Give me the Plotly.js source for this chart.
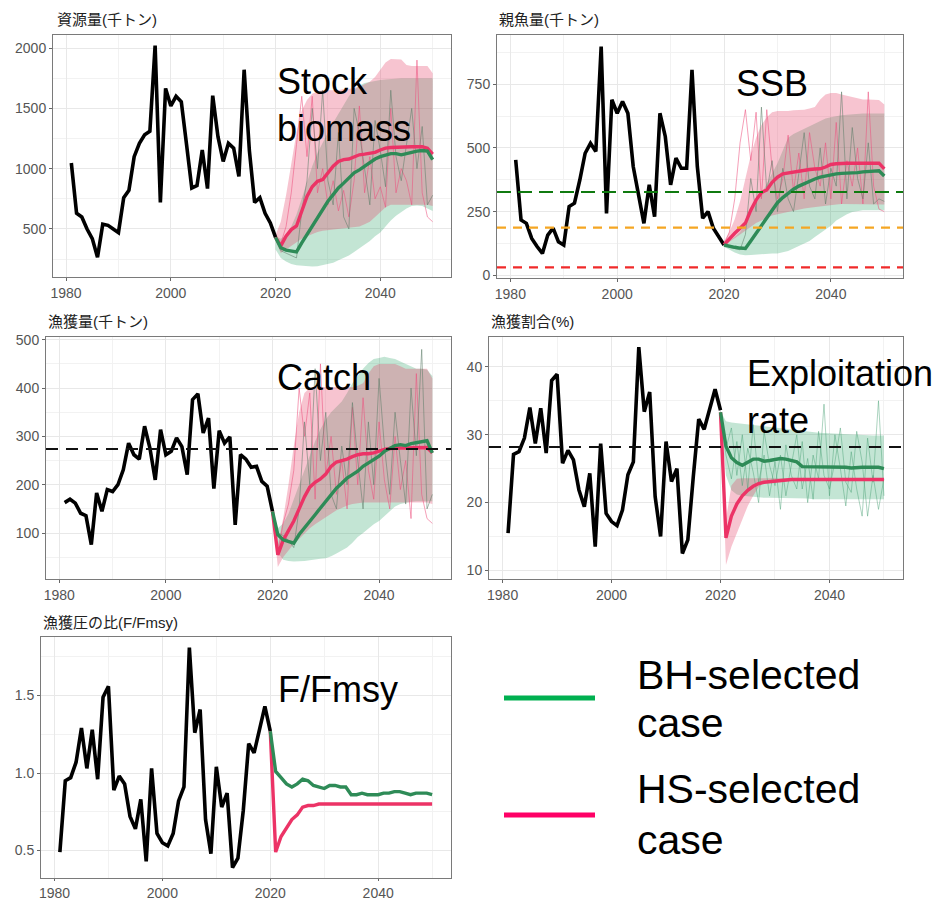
<!DOCTYPE html>
<html><head><meta charset="utf-8">
<script src="https://cdn.plot.ly/plotly-3.0.1.min.js"></script>
<style>html,body{margin:0;padding:0;background:#fff}#chart{width:940px;height:903px}</style>
</head><body><div id="chart"></div>
<script>
// ---------- DATA ----------
const histYears = [1981,1982,1983,1984,1985,1986,1987,1988,1989,1990,
  1991,1992,1993,1994,1995,1996,1997,1998,1999,2000,
  2001,2002,2003,2004,2005,2006,2007,2008,2009,2010,
  2011,2012,2013,2014,2015,2016,2017,2018,2019,2020];
const projYears = [2020,2021,2022,2023,2024,2025,2026,2027,2028,2029,
  2030,2031,2032,2033,2034,2035,2036,2037,2038,2039,
  2040,2041,2042,2043,2044,2045,2046,2047,2048,2049,2050];

// Stock biomass (thousand t)
const bioHist = [1047,630,600,500,420,265,540,530,500,470,
  760,820,1100,1210,1280,1310,2020,720,1665,1520,
  1600,1555,1200,840,860,1155,835,1605,1265,1060,
  1210,1170,935,1820,1150,720,760,630,550,430];
const bioHS = [430,360,440,495,525,640,770,850,895,910,
  965,1020,1060,1075,1080,1100,1115,1120,1125,1135,
  1155,1170,1175,1178,1178,1180,1182,1182,1182,1170,1120];
const bioBH = [430,345,325,315,310,385,455,520,590,660,
  730,785,840,880,920,965,990,1020,1045,1080,
  1100,1115,1125,1125,1115,1125,1138,1145,1150,1145,1075];
const bioHSup = [450,560,780,1050,1300,1480,1570,1620,1640,1650,
  1650,1650,1650,1660,1660,1670,1680,1700,1720,1760,
  1820,1880,1910,1910,1905,1860,1850,1850,1850,1850,1790];
const bioHSlo = [400,300,330,360,390,420,440,460,475,485,
  490,495,500,500,505,510,520,540,560,600,
  640,680,700,700,700,700,700,700,700,700,690];
const bioBHup = [440,420,450,520,620,760,900,1020,1130,1220,
  1300,1380,1450,1530,1600,1650,1690,1710,1720,1730,
  1735,1740,1745,1745,1750,1750,1750,1750,1750,1750,1750];
const bioBHlo = [330,260,230,210,200,195,192,190,192,200,
  210,220,240,260,280,310,340,370,400,440,
  470,520,570,610,640,670,690,695,690,670,650];
const bioTrajHS = [420,380,520,800,1200,1600,1100,1600,800,1000,
  700,900,650,820,600,900,1520,800,1100,750,
  850,680,1500,800,1000,900,700,1900,800,600,560];
const bioTrajBH = [420,320,300,280,260,650,900,1500,1000,1650,
  900,700,1300,600,500,1500,1300,1000,700,1400,
  1150,850,1650,1100,900,1200,1500,1000,1350,700,780];

// SSB (thousand t)
const ssbHist = [453,217,204,145,113,86,158,185,132,119,
  270,283,374,479,518,486,898,243,689,636,
  682,636,427,309,204,355,230,636,545,355,
  460,420,420,806,427,224,250,185,152,119];
const ssbHS = [120,145,165,185,205,255,295,325,335,365,
  385,398,402,405,410,412,415,417,418,425,
  435,438,440,440,440,440,440,440,442,440,418];
const ssbBH = [119,113,110,107,105,135,165,195,228,260,
  285,305,322,338,350,360,370,378,385,390,
  395,398,400,400,400,403,406,408,410,410,390];
const ssbHSup = [135,170,220,290,380,470,540,590,620,640,
  645,645,645,648,650,650,655,660,690,710,
  715,715,710,705,700,695,690,690,690,688,670];
const ssbHSlo = [118,130,145,160,175,190,205,215,225,235,
  240,245,250,255,260,262,265,268,270,272,
  275,278,280,280,280,280,280,280,280,280,278];
const ssbBHup = [125,135,150,170,200,240,280,320,360,400,
  440,490,540,555,565,575,585,595,605,615,
  620,625,628,630,632,634,635,635,635,635,635];
const ssbBHlo = [112,100,90,82,79,80,82,84,85,86,
  86,90,95,105,115,125,135,150,165,177,
  195,215,229,240,248,252,255,255,255,255,255];
const ssbTrajHS = [120,170,300,520,650,450,640,300,650,420,
  300,380,550,330,480,300,560,420,350,520,
  300,600,280,450,350,500,280,720,350,260,250];
const ssbTrajBH = [120,110,105,100,160,380,250,660,330,450,
  250,420,300,250,400,560,350,300,500,280,
  420,350,720,300,580,380,300,520,280,300,290];
const ssbRefs = [327, 187, 31];   // target, limit, ban

// Catch (thousand t)
const catHist = [163,170,162,141,136,76,183,145,190,186,
  200,231,286,262,253,321,276,210,314,262,
  269,297,279,221,376,388,307,338,192,312,
  286,299,117,262,253,236,238,207,197,145];
const catHS = [145,55,85,105,125,150,175,195,205,212,
  222,238,247,250,253,258,262,264,264,266,
  270,273,275,276,276,276,276,277,277,277,266];
const catBH = [145,97,86,83,79,97,110,124,138,152,
  166,179,193,203,214,221,228,238,245,252,
  259,269,276,281,283,281,285,287,289,291,266];
const catHSup = [150,75,130,200,280,350,390,400,402,402,
  402,402,402,402,402,402,405,410,430,445,
  450,450,450,450,445,440,440,440,440,440,420];
const catHSlo = [140,30,50,65,78,88,100,110,118,125,
  132,140,147,152,157,160,162,163,163,163,
  163,163,163,163,163,163,163,163,163,163,160];
const catBHup = [150,110,120,140,170,200,230,260,290,315,
  335,350,360,372,390,410,425,440,452,460,
  462,465,462,460,455,450,445,440,440,438,425];
const catBHlo = [140,60,45,42,41,41,42,44,46,47,
  48,52,58,64,70,80,92,100,110,118,
  125,135,145,155,160,163,165,166,166,166,166];
const catTrajHS = [145,60,120,160,230,400,300,390,170,450,
  220,300,180,250,150,360,200,380,230,170,
  330,210,150,300,190,250,130,430,180,130,120];
const catTrajBH = [145,100,95,85,70,150,330,200,440,250,
  350,180,150,280,200,370,250,150,330,200,
  420,280,180,350,250,160,400,260,480,150,180];
const catRef = 274;

// Exploitation rate (%)
const erHist = [15.5,27.1,27.5,29.5,34.0,28.7,33.9,27.3,38.0,38.9,
  25.8,27.7,26.3,21.9,19.4,24.3,13.5,28.7,18.4,17.2,
  16.6,18.9,24.1,26.0,42.9,33.4,36.3,20.9,15.0,29.0,
  23.1,25.0,12.5,14.5,23.8,32.3,30.8,33.6,36.7,33.6];
const erHS = [33.3,14.8,18.0,19.8,21.0,21.8,22.4,22.8,23.0,23.1,
  23.2,23.3,23.3,23.4,23.4,23.4,23.4,23.4,23.4,23.4,
  23.4,23.4,23.4,23.4,23.4,23.4,23.4,23.4,23.4,23.4,23.4];
const erBH = [33.3,28.3,26.6,25.9,25.5,26.0,26.4,26.4,26.1,26.2,
  26.4,26.5,26.4,26.2,26.0,25.3,25.3,25.2,25.2,25.2,
  25.3,25.3,25.2,25.2,25.1,25.2,25.2,25.2,25.2,25.2,25.0];
const erHSup = [33.5,17.5,22.5,23.5,23.6,23.6,23.6,23.6,23.6,23.6,
  23.6,23.6,23.6,23.6,23.6,23.6,23.6,23.6,23.6,23.6,
  23.6,23.6,23.6,23.6,23.6,23.6,23.6,23.6,23.6,23.6,23.6];
const erHSlo = [33.0,10.8,13.5,15.5,17.5,19.5,21.0,22.3,22.9,23.1,
  23.2,23.3,23.3,23.3,23.3,23.3,23.3,23.3,23.3,23.3,
  23.3,23.3,23.3,23.3,23.3,23.3,23.3,23.3,23.3,23.3,23.3];
const erBHup = [33.5,32.0,31.8,31.7,31.6,31.5,31.4,31.3,31.2,31.1,
  31.0,30.9,30.8,30.7,30.6,30.5,30.4,30.35,30.3,30.25,
  30.2,30.15,30.1,30.05,30.0,30.0,29.95,29.95,29.9,29.9,29.9];
const erBHlo = [33.0,24.0,21.8,21.2,21.0,20.9,20.8,20.8,20.7,20.7,
  20.7,20.7,20.6,20.6,20.6,20.6,20.6,20.5,20.5,20.5,
  20.5,20.5,20.5,20.5,20.5,20.5,20.5,20.5,20.5,20.5,20.5];
const erTrajBH1 = [33.3,28.0,31.0,24.0,30.0,22.0,31.5,23.0,27.0,21.0,
  26.0,19.0,28.5,24.0,22.0,29.0,20.0,27.0,23.5,34.5,
  21.0,30.0,25.0,19.5,27.5,22.0,18.0,29.5,23.0,35.0,21.0];
const erTrajBH2 = [33.3,27.0,23.5,29.0,22.5,28.0,24.5,20.0,30.5,25.5,
  22.5,27.0,21.0,25.5,30.0,22.0,26.5,20.5,30.5,24.0,
  22.0,26.0,31.0,23.0,21.5,30.5,26.0,18.0,24.0,19.0,23.5];
const erRef = 28.2;

// F/Fmsy
const fHist = [0.49,0.95,0.97,1.07,1.29,1.03,1.28,0.96,1.49,1.56,
  0.89,0.98,0.93,0.72,0.64,0.83,0.43,1.03,0.61,0.55,
  0.53,0.61,0.82,0.91,1.81,1.26,1.41,0.70,0.48,1.04,
  0.78,0.87,0.39,0.45,0.76,1.19,1.13,1.28,1.43,1.27];
const fHS = [1.27,0.49,0.59,0.65,0.70,0.73,0.78,0.79,0.79,0.80,
  0.80,0.80,0.80,0.80,0.80,0.80,0.80,0.80,0.80,0.80,
  0.80,0.80,0.80,0.80,0.80,0.80,0.80,0.80,0.80,0.80,0.80];
const fBH = [1.27,1.01,0.97,0.93,0.91,0.93,0.96,0.95,0.92,0.91,
  0.90,0.92,0.92,0.91,0.91,0.86,0.86,0.87,0.86,0.86,
  0.86,0.87,0.87,0.88,0.88,0.87,0.86,0.87,0.87,0.87,0.86];

const panelTitles = ['資源量(千トン)', '親魚量(千トン)', '漁獲量(千トン)', '漁獲割合(%)', '漁獲圧の比(F/Fmsy)'];
const panelLabels = ['Stock<br>biomass', 'SSB', 'Catch', 'Exploitation<br>rate', 'F/Fmsy'];
const legendLabels = [['BH-selected', 'case'], ['HS-selected', 'case']];

// ---------- STYLE ----------
const W = 940, H = 903;
const HS_COL = '#ec3366', BH_COL = '#2e8b57';
const HS_FILL = 'rgba(230,60,100,0.30)', BH_FILL = 'rgba(40,160,100,0.28)';
const HS_THIN = 'rgba(236,80,125,0.55)', BH_THIN = 'rgba(95,125,105,0.55)';
const FONT = 'Liberation Sans, Arial, sans-serif';
const px = v => v / W, py = v => 1 - v / H;

const boxes = [
  {l:53,  r:451, t:35,  b:277, yr:[102, 2108],     dt:500, mdt:250},
  {l:497, r:903, t:35,  b:278, yr:[-10.5, 943],    dt:250, mdt:125},
  {l:46,  r:451, t:337, b:579, yr:[5, 505.6],      dt:100, mdt:50},
  {l:489, r:903, t:337, b:579, yr:[8.74, 44.4],    dt:10,  mdt:5},
  {l:41,  r:451, t:637, b:878, yr:[0.3225, 1.878], dt:0.5, mdt:0.25, fmt:'.1f'}
];

const traces = [];
function ax(i){ return i === 0 ? ['x','y'] : ['x'+(i+1), 'y'+(i+1)]; }
function ln(i, x, y, color, width, extra){
  const [xa, ya] = ax(i);
  return Object.assign({type:'scatter', mode:'lines', x:x, y:y, xaxis:xa, yaxis:ya,
    line:{color:color, width:width}, hoverinfo:'skip', showlegend:false}, extra || {});
}
function band(i, lo, up, fill){
  traces.push(ln(i, projYears, lo, 'rgba(0,0,0,0)', 0));
  traces.push(ln(i, projYears, up, 'rgba(0,0,0,0)', 0, {fill:'tonexty', fillcolor:fill}));
}
function panel(i, o){
  if (o.bh) band(i, o.bh[0], o.bh[1], BH_FILL);
  if (o.hs) band(i, o.hs[0], o.hs[1], HS_FILL);
  (o.thin || []).forEach(t => traces.push(ln(i, projYears, t[0], t[1], 1)));
  traces.push(ln(i, histYears, o.hist, '#000', 3.6));
  traces.push(ln(i, projYears, o.hsMed, HS_COL, 3.4));
  traces.push(ln(i, projYears, o.bhMed, BH_COL, 3.4));
}

panel(0, {hist:bioHist, hsMed:bioHS, bhMed:bioBH, hs:[bioHSlo,bioHSup], bh:[bioBHlo,bioBHup],
  thin:[[bioTrajHS,HS_THIN],[bioTrajBH,BH_THIN]]});
panel(1, {hist:ssbHist, hsMed:ssbHS, bhMed:ssbBH, hs:[ssbHSlo,ssbHSup], bh:[ssbBHlo,ssbBHup],
  thin:[[ssbTrajHS,HS_THIN],[ssbTrajBH,BH_THIN]]});
panel(2, {hist:catHist, hsMed:catHS, bhMed:catBH, hs:[catHSlo,catHSup], bh:[catBHlo,catBHup],
  thin:[[catTrajHS,HS_THIN],[catTrajBH,BH_THIN]]});
panel(3, {hist:erHist, hsMed:erHS, bhMed:erBH, hs:[erHSlo,erHSup], bh:[erBHlo,erBHup],
  thin:[[erTrajBH1,'rgba(70,160,115,0.45)'],[erTrajBH2,'rgba(70,160,115,0.45)']]});
panel(4, {hist:fHist, hsMed:fHS, bhMed:fBH});

const layout = {
  width:W, height:H, margin:{l:0,r:0,t:0,b:0}, autosize:false,
  paper_bgcolor:'#fff', plot_bgcolor:'#fff', showlegend:false,
  font:{family:FONT, color:'#333'},
  shapes:[], annotations:[]
};

boxes.forEach((b, i) => {
  const n = i === 0 ? '' : String(i+1);
  const common = {
    showline:true, mirror:true, linecolor:'#7a7a7a', linewidth:1,
    showgrid:true, gridcolor:'#e8e8e8', gridwidth:1, zeroline:false,
    ticks:'outside', ticklen:3, tickwidth:1, tickcolor:'#666',
    tickfont:{family:FONT, size:14, color:'#555'}, fixedrange:true
  };
  layout['xaxis'+n] = Object.assign({}, common, {
    domain:[px(b.l), px(b.r)], range:[1977.5, 2053.5], anchor:'y'+n,
    tickmode:'linear', tick0:1980, dtick:20,
    minor:{showgrid:true, gridcolor:'#f2f2f2', dtick:10, tick0:1970}
  });
  if (i === 4) layout['xaxis'+n].ticklen = 2;
  layout['yaxis'+n] = Object.assign({}, common, {
    domain:[py(b.b), py(b.t)], range:b.yr, anchor:'x'+n,
    tickmode:'linear', tick0:0, dtick:b.dt, tickformat:b.fmt || '',
    minor:{showgrid:true, gridcolor:'#f2f2f2', dtick:b.mdt, tick0:0}
  });
});

// reference lines
function hline(i, v, color, dash, width){
  const n = i === 0 ? '' : String(i+1);
  layout.shapes.push({type:'line', xref:'x'+n+' domain', x0:0, x1:1, yref:'y'+n, y0:v, y1:v,
    line:{color:color, width:width, dash:dash}});
}
hline(1, ssbRefs[0], '#107a10', '14px,7px', 2.2);
hline(1, ssbRefs[1], '#f5a623', '9px,7px', 2.2);
hline(1, ssbRefs[2], '#f02a2a', '9px,7px', 2.2);
hline(2, catRef, '#111', '12px,8px', 2);
hline(3, erRef, '#111', '12px,8px', 2);

// panel titles
const titlePos = [[55,20],[497,20],[46,322],[489,322],[41,622]];
panelTitles.forEach((t, i) => layout.annotations.push({
  text:t, xref:'paper', yref:'paper', x:px(titlePos[i][0]), y:py(titlePos[i][1]),
  xanchor:'left', yanchor:'middle', showarrow:false,
  font:{family:'Liberation Sans, Noto Sans CJK JP, sans-serif', size:15, color:'#222'}
}));

// big in-panel labels
const labelPos = [[275,105],[734,84],[275,377],[745,397],[276,689]];
panelLabels.forEach((t, i) => layout.annotations.push({
  text:t, xref:'paper', yref:'paper', x:px(labelPos[i][0]), y:py(labelPos[i][1]),
  xanchor:'left', yanchor:'middle', align:'left', showarrow:false,
  font:{family:FONT, size:36, color:'#000'}
}));

// legend (drawn as shapes + text)
const legCols = ['#00b050', '#ff0066'];
const legLineY = [698, 815];
const legTextY = [[674.6, 723.3], [789.3, 840.3]];
legendLabels.forEach((lab, k) => {
  layout.shapes.push({type:'line', xref:'paper', yref:'paper',
    x0:px(504), x1:px(595), y0:py(legLineY[k]), y1:py(legLineY[k]),
    line:{color:legCols[k], width:5}});
  lab.forEach((t, j) => layout.annotations.push({
    text:t, xref:'paper', yref:'paper', x:px(635), y:py(legTextY[k][j]),
    xanchor:'left', yanchor:'middle', showarrow:false,
    font:{family:FONT, size:41, color:'#000'}
  }));
});

Plotly.newPlot('chart', traces, layout, {staticPlot:true, displayModeBar:false});
</script>
</body></html>
